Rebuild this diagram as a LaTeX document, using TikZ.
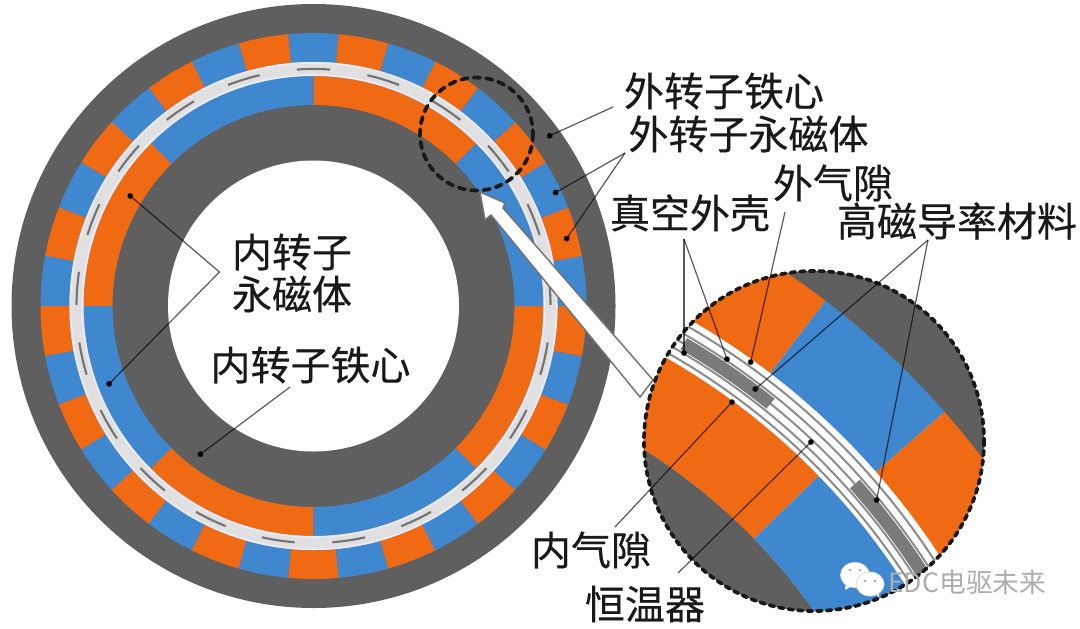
\documentclass[tikz,border=0pt]{standalone}
\usepackage{fontspec}
\usetikzlibrary{arrows.meta}
\newfontfamily\cjk[FakeBold=0.35]{Noto Sans CJK SC}
\newfontfamily\cjkmark{Noto Sans CJK SC}
\definecolor{corec}{HTML}{5F5F5F}
\definecolor{orangec}{HTML}{F06A14}
\definecolor{bluec}{HTML}{3F88CF}
\definecolor{gapc}{HTML}{E0E0E0}
\newcommand{\ringseg}[5]{\fill[#1] (#2:#3) arc[start angle=#2,end angle=#4,radius=#3] -- (#4:#5) arc[start angle=#4,end angle=#2,radius=#5] -- cycle;}
\tikzset{
  lbl/.style={font=\cjk\fontsize{30}{30}\selectfont,inner sep=0pt,text=black!90},
  leader/.style={draw=black,draw opacity=0.65,line width=0.9pt},
  leaderdot/.style={leader,-{Circle[length=4.5pt,fill=black]}},
  lens/.style={draw=black!90,line width=2.8pt,dash pattern=on 3.6pt off 3.6pt,line cap=round},
  stripe/.style={draw=black!45,line width=1.5pt},
  gapdash/.style={draw=black!55,line width=1.6pt}
}
\begin{document}
\begin{tikzpicture}[x=0.75pt,y=0.75pt,yscale=-1,xscale=1]
		\useasboundingbox (0,0) rectangle (1080,628);
		
		%Motor cross section
		\begin{scope}[shift={(313.5,306)},yscale=-1]
		\fill[corec] (0,0) circle (302);
		\foreach \i in {0,...,33} {
			\pgfmathsetmacro{\angA}{84.706+\i*360/34}
			\pgfmathsetmacro{\angB}{84.706+(\i+1)*360/34}
			\ifodd\i
				\ringseg{orangec}{\angA}{273}{\angB}{244}
			\else
				\ringseg{bluec}{\angA}{273}{\angB}{244}
			\fi
		}
		\foreach \i in {0,...,7} {
			\pgfmathsetmacro{\angA}{90+\i*45}
			\pgfmathsetmacro{\angB}{90+(\i+1)*45}
			\ifodd\i
				\ringseg{orangec}{\angA}{230}{\angB}{201}
			\else
				\ringseg{bluec}{\angA}{230}{\angB}{201}
			\fi
		}
		\ringseg{gapc}{0}{244}{360}{230}
		\draw[blue!8!white,line width=1.2pt] (0,0) circle (243.2) (0,0) circle (231);
		\foreach \i in {0,...,20} {
			\pgfmathsetmacro{\angA}{86+\i*360/21}
			\pgfmathsetmacro{\angB}{94+\i*360/21}
			\draw[gapdash] (\angA:237) arc[start angle=\angA,end angle=\angB,radius=237];
		}
		\fill[white] (0,0) circle (145.5);
		\end{scope}
		
		%Small dashed circle
		\draw[lens,line width=2.8pt,dash pattern=on 5pt off 4.4pt] (476.5,134) circle (56.5);
		
		%Big arrow
		\coordinate (tail1) at (653,380);
		\coordinate (tail2) at (640,397);
		\coordinate (neck1) at (503,208);
		\coordinate (neck2) at (491,215);
		\coordinate (barb1) at (505,203);
		\coordinate (barb2) at (485,220);
		\coordinate (head) at (480,192);
		\draw[draw=black!55,fill=white,line width=1.1pt,line join=miter] (tail1) -- (neck1) -- (barb1) -- (head) -- (barb2) -- (neck2) -- (tail2) -- cycle;
		
		%Enlarged view
		\begin{scope}
		\clip (814,441) circle (170);
		\fill[white] (814,441) circle (170);
		\begin{scope}[shift={(324,957)},yscale=-1]
		\ringseg{corec}{20}{1050}{75}{822}
		\ringseg{corec}{20}{600}{75}{400}
		\ringseg{orangec}{52.6}{826}{75}{735}
		\ringseg{bluec}{41.3}{826}{52.6}{735}
		\ringseg{orangec}{20}{826}{41.3}{735}
		\ringseg{orangec}{44.2}{690}{75}{600}
		\ringseg{bluec}{20}{690}{44.2}{600}
		\foreach \r in {695,702.5,711,719.5,728} {
			\draw[stripe] (25:\r) arc[start angle=25,end angle=70,radius=\r];
		}
		\ringseg{black!52}{59.6}{717.5}{51.1}{704.5}
		\ringseg{black!52}{41.7}{717.5}{31}{704.5}
		\end{scope}
		\end{scope}
		\draw[lens] (814,441) circle (170);
		
		%Straight Lines
		\coordinate (outercoreS) at (613,107);
		\coordinate (outercoreE) at (547,137);
		\draw[leaderdot] (outercoreS) -- (outercoreE);
		\coordinate (outermagS) at (625,153);
		\coordinate (outermagA) at (553,194);
		\coordinate (outermagB) at (565,241);
		\draw[leaderdot] (outermagS) -- (outermagA);
		\draw[leaderdot] (outermagS) -- (outermagB);
		\coordinate (innermagS) at (219.5,272);
		\coordinate (innermagA) at (128,194);
		\coordinate (innermagB) at (107,386);
		\draw[leaderdot] (innermagS) -- (innermagA);
		\draw[leaderdot] (innermagS) -- (innermagB);
		\coordinate (innercoreS) at (290,387);
		\coordinate (innercoreE) at (198,456);
		\draw[leaderdot] (innercoreS) -- (innercoreE);
		\coordinate (shellS) at (684,239);
		\coordinate (shellA) at (684,356);
		\coordinate (shellB) at (728,362);
		\draw[leaderdot] (shellS) -- (shellA);
		\draw[leaderdot] (shellS) -- (shellB);
		\coordinate (outergapS) at (785,212);
		\coordinate (outergapE) at (750,365);
		\draw[leaderdot] (outergapS) -- (outergapE);
		\coordinate (highmuS) at (928,240);
		\coordinate (highmuA) at (753,391);
		\coordinate (highmuB) at (876,503);
		\draw[leaderdot] (highmuS) -- (highmuA);
		\draw[leaderdot] (highmuS) -- (highmuB);
		\coordinate (innergapS) at (615,527);
		\coordinate (innergapE) at (734,400);
		\draw[leaderdot] (innergapS) -- (innergapE);
		\coordinate (thermoS) at (678,573);
		\coordinate (thermoE) at (813,440);
		\draw[leaderdot] (thermoS) -- (thermoE);
		
		%WeChat mark
		\fill[white] (846,582) -- (845,590) -- (854,585) -- cycle;
		\fill[white] (875,592) -- (879,598) -- (879,588) -- cycle;
		\draw[draw=black!12,fill=white,line width=0.6pt] (855,575) ellipse (14.5 and 12.5);
		\draw[draw=black!12,fill=white,line width=0.6pt] (870,584) ellipse (14 and 12);
		\fill[black!35] (850,570) circle (1.4) (860,570) circle (1.4) (865,581) circle (1.4) (875,581) circle (1.4);
		
		% Text Node
		\draw (724,91) node[lbl] (outercore) {外转子铁心};
		% Text Node
		\draw (748.5,134) node[lbl] (outermag) {外转子永磁体};
		% Text Node
		\draw (833,183) node[lbl] (outergap) {外气隙};
		% Text Node
		\draw (690,213) node[lbl] (shell) {真空外壳};
		% Text Node
		\draw (957,221) node[lbl] (highmu) {高磁导率材料};
		% Text Node
		\draw (292,252) node[lbl] (innermagtop) {内转子};
		% Text Node
		\draw (292,294) node[lbl] (innermagbot) {永磁体};
		% Text Node
		\draw (310.5,365) node[lbl] (innercore) {内转子铁心};
		% Text Node
		\draw (591,550) node[lbl] (innergap) {内气隙};
		% Text Node
		\draw (645,604) node[lbl] (thermo) {恒温器};
		% Text Node
		\draw (888,582) node[anchor=west,inner sep=0pt,font=\cjkmark\fontsize{20}{20}\selectfont,text=black!32] (mark) {EDC电驱未来};
		
		\end{tikzpicture}
\end{document}
